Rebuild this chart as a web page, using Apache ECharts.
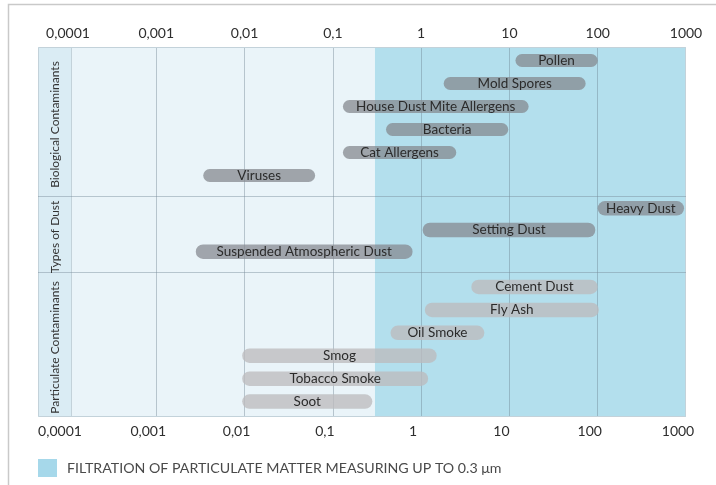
<!DOCTYPE html>
<html>
<head>
<meta charset="utf-8">
<script src="https://cdn.jsdelivr.net/npm/echarts@6/dist/echarts.min.js"></script>
<style>
  html, body { margin: 0; padding: 0; background: #ffffff; }
  #chart { width: 716px; height: 485px; }
</style>
</head>
<body>
<div id="chart"></div>
<script>
// Particle size ranges in micrometres (log scale), grouped by contaminant type.
const groupNames = ['Biological Contaminants', 'Types of Dust', 'Particulate Contaminants'];

const bioNames = ['Pollen', 'Mold Spores', 'House Dust Mite Allergens', 'Bacteria', 'Cat Allergens', 'Viruses'];
const bioFrom  = [11.7, 1.8, 0.13, 0.4, 0.13, 0.0034];
const bioTo    = [100, 73, 16.5, 9.7, 2.5, 0.063];

const dustNames = ['Heavy Dust', 'Setting Dust', 'Suspended Atmospheric Dust'];
const dustFrom  = [100, 1.04, 0.0028];
const dustTo    = [950, 94, 0.8];

const partNames = ['Cement Dust', 'Fly Ash', 'Oil Smoke', 'Smog', 'Tobacco Smoke', 'Soot'];
const partFrom  = [3.7, 1.1, 0.45, 0.0094, 0.0094, 0.0094];
const partTo    = [100, 103, 5.2, 1.5, 1.2, 0.28];

const tickLabels = ['0,0001', '0,001', '0,01', '0,1', '1', '10', '100', '1000'];
const axisMin = 0.0001;
const axisMax = 1000;

const filterFrom = 0.3;
const filterTo = 1000;
const filterLabel = 'FILTRATION OF PARTICULATE MATTER MEASURING UP TO 0.3 \u03bcm';

// ---- layout ----
const W = 716, H = 485;
const FONT = 'Lato, "Open Sans", sans-serif';
const plotBox = { left: 71, right: 686, top: 47, bottom: 417 };
const stripLeft = 38;
const bandEdges = [47, 196, 272, 417];
const axisGrid = { left: 68, right: W - 686, top: plotBox.top, bottom: H - plotBox.bottom };
const rowGrids = [
  { top: 49, height: 138 },
  { top: 197.5, height: 65 },
  { top: 275.5, height: 137.5 }
];
const barHeights = [13, 14.5, 14.5];
const barColors = ['rgba(132,136,142,0.74)', 'rgba(132,135,141,0.72)', 'rgba(188,187,190,0.78)'];

function tickText(v) {
  const e = Math.round(Math.log10(v));
  return tickLabels[e - Math.round(Math.log10(axisMin))] || '';
}

function capsule(names, fill, barH) {
  return function (params, api) {
    const a = api.coord([api.value(0), api.value(2)]);
    const b = api.coord([api.value(1), api.value(2)]);
    return {
      type: 'rect',
      shape: { x: a[0], y: a[1] - barH / 2, width: b[0] - a[0], height: barH, r: barH / 2 },
      style: { fill: fill },
      textContent: {
        style: { text: names[params.dataIndex], fill: '#2b2b2b', font: '13.5px ' + FONT }
      },
      textConfig: { position: 'inside' }
    };
  };
}

const groups = [
  { names: bioNames, from: bioFrom, to: bioTo },
  { names: dustNames, from: dustFrom, to: dustTo },
  { names: partNames, from: partFrom, to: partTo }
];

const grids = [Object.assign({}, axisGrid)];
const xAxes = [
  {
    gridIndex: 0, type: 'log', logBase: 10, min: axisMin, max: axisMax, position: 'bottom', z: 3,
    axisLine: { show: false }, axisTick: { show: false },
    splitLine: { show: true, showMinLine: false, showMaxLine: false, lineStyle: { color: 'rgba(105,125,140,0.4)', width: 1 } },
    axisLabel: { formatter: tickText, color: '#2e2e2e', fontSize: 14, fontFamily: FONT, margin: 7,
      padding: [0, 16, 0, 0], showMinLabel: true, showMaxLabel: true }
  },
  {
    gridIndex: 0, type: 'log', logBase: 10, min: axisMin, max: axisMax, position: 'top', z: 3,
    axisLine: { show: false }, axisTick: { show: false }, splitLine: { show: false },
    axisLabel: { formatter: tickText, color: '#2e2e2e', fontSize: 14, fontFamily: FONT, margin: 7,
      showMinLabel: true, showMaxLabel: true }
  }
];
const yAxes = [{ gridIndex: 0, type: 'value', min: 0, max: 1, show: false }];

const series = [{
  name: filterLabel,
  type: 'line',
  xAxisIndex: 0, yAxisIndex: 0,
  data: [],
  z: 1,
  markArea: {
    silent: true,
    itemStyle: { color: '#b3dfed' },
    data: [[{ xAxis: filterFrom }, { xAxis: filterTo }]]
  }
}];

groups.forEach(function (g, i) {
  grids.push({ left: axisGrid.left, right: axisGrid.right, top: rowGrids[i].top, height: rowGrids[i].height });
  xAxes.push({ gridIndex: i + 1, type: 'log', logBase: 10, min: axisMin, max: axisMax, show: false });
  yAxes.push({ gridIndex: i + 1, type: 'category', inverse: true, data: g.names, show: false });
  series.push({
    name: groupNames[i],
    type: 'custom',
    coordinateSystem: 'cartesian2d',
    xAxisIndex: xAxes.length - 1, yAxisIndex: yAxes.length - 1,
    z: 4,
    silent: true,
    renderItem: capsule(g.names, barColors[i], barHeights[i]),
    encode: { x: [0, 1], y: 2 },
    data: g.names.map(function (n, k) { return [g.from[k], g.to[k], k]; })
  });
});

// Frame, side strip, band separators and band titles
const graphics = [
  { type: 'polyline', z: 0, silent: true,
    shape: { points: [[8.5, H], [8.5, 4.5], [W, 4.5]] },
    style: { stroke: '#c9c9c9', lineWidth: 1.5, fill: null } },
  { type: 'rect', z: -10, silent: true,
    shape: { x: plotBox.left, y: plotBox.top, width: plotBox.right - plotBox.left, height: plotBox.bottom - plotBox.top },
    style: { fill: '#eaf4f9' } },
  { type: 'rect', z: -10, silent: true,
    shape: { x: stripLeft, y: plotBox.top, width: plotBox.left - stripLeft, height: plotBox.bottom - plotBox.top },
    style: { fill: '#daecf4' } },
  { type: 'rect', z: 5, silent: true,
    shape: { x: stripLeft + 0.5, y: plotBox.top + 0.5, width: plotBox.right - stripLeft - 1, height: plotBox.bottom - plotBox.top - 1 },
    style: { fill: null, stroke: '#c3d2da', lineWidth: 1 } },
  { type: 'line', z: 5, silent: true,
    shape: { x1: plotBox.left + 0.5, y1: plotBox.top, x2: plotBox.left + 0.5, y2: plotBox.bottom },
    style: { stroke: '#c3d2da', lineWidth: 1 } }
];
for (let i = 1; i < bandEdges.length - 1; i++) {
  graphics.push({ type: 'line', z: 5, silent: true,
    shape: { x1: stripLeft, y1: bandEdges[i] + 0.5, x2: plotBox.right, y2: bandEdges[i] + 0.5 },
    style: { stroke: 'rgba(120,140,152,0.45)', lineWidth: 1 } });
}
groupNames.forEach(function (name, i) {
  graphics.push({ type: 'text', z: 6, silent: true,
    x: (stripLeft + plotBox.left) / 2 + 1, y: (bandEdges[i] + bandEdges[i + 1]) / 2 + 3,
    rotation: Math.PI / 2,
    style: { text: name, fill: '#333', font: '12px ' + FONT, align: 'center', verticalAlign: 'middle' } });
});

const chart = echarts.init(document.getElementById('chart'), null, { renderer: 'canvas' });
chart.setOption({
  animation: false,
  backgroundColor: '#ffffff',
  grid: grids,
  xAxis: xAxes,
  yAxis: yAxes,
  legend: {
    data: [{ name: filterLabel, icon: 'rect', itemStyle: { color: '#a6d8ea' } }],
    selectedMode: false,
    left: 38, top: 459,
    padding: 0,
    itemWidth: 19, itemHeight: 18,
    textStyle: { color: '#4a4a4a', fontSize: 14.2, fontFamily: FONT, padding: [0, 0, 0, 5] }
  },
  graphic: graphics,
  series: series
});
</script>
</body>
</html>
